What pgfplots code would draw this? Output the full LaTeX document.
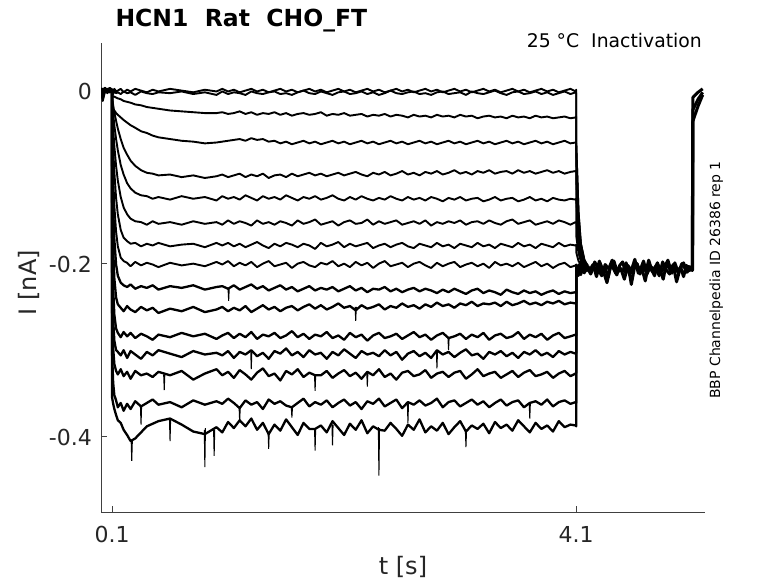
\documentclass[border=0pt]{standalone}
\usepackage{fontspec}
\setmainfont{DejaVu Sans}
\usepackage{pgfplots}
\pgfplotsset{compat=1.18}
\usepackage{pgfplotstable}
\definecolor{axisgray}{rgb}{0.25,0.25,0.25}
\definecolor{labelgray}{rgb}{0.15,0.15,0.15}
\pgfplotstableread{
t y1 y2 y3 y4 y5 y6 y7 y8 y9 y10 y11 y12 y13 y14 y15 y16
0.005 0.002 -0.001 0.001 -0.002 0 0.003 -0.001 0.001 -0.003 0 0.002 -0.002 0.001 -0.001 0 0.002
0.02 -0.002 -0.010 0.001 0.002 -0.003 -0.001 0 -0.012 0.002 -0.001 -0.002 0.001 -0.003 0 0.001 -0.002
0.04 0.001 0.002 -0.002 0 0.003 -0.002 0.001 -0.001 0 0.002 -0.001 0.003 0 -0.002 0.001 0
0.06 -0.001 0 0.002 -0.001 -0.002 0.001 -0.003 0.002 0.001 -0.002 0 -0.001 0.002 0.001 -0.001 0.001
0.08 0.002 -0.002 0 0.001 0.001 -0.001 0.002 0 -0.002 0.001 0.003 0 -0.001 0.002 0 -0.002
0.1 0 0.001 -0.001 -0.001 0 0 -0.001 0.001 0 -0.001 0.001 -0.001 0 0 0.001 0
0.101 0.001 -0.002 -0.006 -0.020 -0.009 -0.014 -0.023 -0.034 -0.056 -0.087 -0.129 -0.170 -0.210 -0.257 -0.306 -0.355
0.11 -0.001 -0.004 -0.007 -0.022 -0.017 -0.027 -0.044 -0.067 -0.100 -0.137 -0.184 -0.229 -0.265 -0.298 -0.338 -0.362
0.12 0.002 -0.001 -0.007 -0.023 -0.025 -0.040 -0.064 -0.094 -0.133 -0.172 -0.217 -0.259 -0.289 -0.316 -0.352 -0.368
0.135 -0.001 -0.003 -0.008 -0.026 -0.035 -0.056 -0.087 -0.124 -0.163 -0.201 -0.239 -0.275 -0.300 -0.324 -0.358 -0.375
0.15 0 -0.002 -0.009 -0.028 -0.044 -0.069 -0.104 -0.143 -0.180 -0.214 -0.247 -0.280 -0.302 -0.328 -0.366 -0.381
0.175 0.002 -0.004 -0.010 -0.031 -0.056 -0.086 -0.123 -0.161 -0.193 -0.222 -0.251 -0.285 -0.306 -0.322 -0.361 -0.384
0.2 -0.002 -0.001 -0.012 -0.034 -0.066 -0.097 -0.135 -0.170 -0.197 -0.225 -0.255 -0.279 -0.300 -0.330 -0.370 -0.392
0.23 0.001 -0.003 -0.013 -0.037 -0.074 -0.107 -0.143 -0.174 -0.199 -0.227 -0.249 -0.284 -0.309 -0.325 -0.362 -0.398
0.26 -0.001 -0.002 -0.014 -0.040 -0.081 -0.113 -0.148 -0.177 -0.203 -0.224 -0.253 -0.280 -0.301 -0.333 -0.368 -0.405
0.3 0.002 -0.005 -0.016 -0.043 -0.087 -0.118 -0.151 -0.176 -0.198 -0.229 -0.256 -0.286 -0.305 -0.324 -0.359 -0.402
0.35 0 -0.001 -0.017 -0.047 -0.092 -0.121 -0.152 -0.180 -0.202 -0.226 -0.250 -0.281 -0.310 -0.329 -0.365 -0.395
0.4 -0.002 -0.003 -0.019 -0.049 -0.095 -0.122 -0.155 -0.177 -0.199 -0.228 -0.254 -0.284 -0.302 -0.327 -0.361 -0.388
0.45 0.001 -0.004 -0.020 -0.052 -0.096 -0.125 -0.151 -0.179 -0.201 -0.225 -0.251 -0.288 -0.306 -0.331 -0.357 -0.385
0.5 -0.001 -0.002 -0.021 -0.054 -0.098 -0.123 -0.154 -0.176 -0.204 -0.230 -0.257 -0.282 -0.300 -0.325 -0.363 -0.382
0.6 0.002 -0.003 -0.023 -0.056 -0.097 -0.126 -0.152 -0.180 -0.199 -0.226 -0.252 -0.285 -0.304 -0.329 -0.360 -0.379
0.7 0 -0.001 -0.024 -0.058 -0.100 -0.122 -0.155 -0.178 -0.202 -0.228 -0.255 -0.280 -0.308 -0.324 -0.366 -0.386
0.8 -0.002 -0.004 -0.025 -0.059 -0.098 -0.125 -0.151 -0.177 -0.200 -0.225 -0.250 -0.284 -0.301 -0.334 -0.358 -0.394
0.9 0.001 -0.002 -0.026 -0.061 -0.101 -0.123 -0.154 -0.181 -0.203 -0.230 -0.256 -0.281 -0.305 -0.327 -0.363 -0.397
1.0 -0.001 -0.005 -0.026 -0.060 -0.099 -0.127 -0.152 -0.176 -0.198 -0.227 -0.253 -0.287 -0.303 -0.322 -0.359 -0.389
1.05 0.002 -0.001 -0.025 -0.059 -0.097 -0.122 -0.155 -0.179 -0.201 -0.226 -0.250 -0.283 -0.306 -0.329 -0.362 -0.395
1.10 -0.001 -0.004 -0.027 -0.058 -0.100 -0.125 -0.150 -0.176 -0.197 -0.229 -0.255 -0.280 -0.301 -0.325 -0.356 -0.383
1.15 0.001 -0.002 -0.026 -0.057 -0.098 -0.123 -0.154 -0.180 -0.203 -0.225 -0.251 -0.286 -0.309 -0.332 -0.361 -0.390
1.20 -0.002 -0.003 -0.024 -0.056 -0.096 -0.126 -0.151 -0.177 -0.199 -0.230 -0.254 -0.281 -0.302 -0.323 -0.367 -0.381
1.25 0 -0.005 -0.027 -0.058 -0.100 -0.121 -0.153 -0.181 -0.202 -0.227 -0.249 -0.285 -0.305 -0.328 -0.358 -0.388
1.30 0.002 -0.001 -0.025 -0.055 -0.097 -0.124 -0.156 -0.178 -0.198 -0.224 -0.256 -0.279 -0.300 -0.334 -0.363 -0.379
1.35 -0.001 -0.003 -0.028 -0.057 -0.099 -0.127 -0.150 -0.175 -0.204 -0.229 -0.252 -0.287 -0.307 -0.326 -0.360 -0.392
1.40 0.001 -0.004 -0.026 -0.056 -0.096 -0.122 -0.154 -0.179 -0.200 -0.226 -0.248 -0.282 -0.303 -0.321 -0.368 -0.384
1.45 -0.002 -0.002 -0.027 -0.059 -0.101 -0.125 -0.152 -0.182 -0.197 -0.231 -0.253 -0.284 -0.310 -0.330 -0.357 -0.397
1.50 0 -0.001 -0.025 -0.058 -0.098 -0.123 -0.155 -0.177 -0.203 -0.228 -0.250 -0.280 -0.301 -0.327 -0.362 -0.386
1.55 0.002 -0.004 -0.028 -0.061 -0.097 -0.126 -0.151 -0.180 -0.201 -0.225 -0.255 -0.286 -0.304 -0.335 -0.359 -0.393
1.60 -0.001 -0.003 -0.026 -0.059 -0.100 -0.121 -0.153 -0.176 -0.199 -0.230 -0.251 -0.283 -0.298 -0.324 -0.364 -0.380
1.65 0.001 -0.005 -0.029 -0.062 -0.096 -0.124 -0.156 -0.178 -0.205 -0.227 -0.249 -0.278 -0.306 -0.328 -0.366 -0.389
1.70 -0.002 -0.002 -0.027 -0.060 -0.099 -0.127 -0.150 -0.181 -0.200 -0.232 -0.254 -0.285 -0.302 -0.322 -0.361 -0.398
1.75 0 0 -0.026 -0.058 -0.097 -0.123 -0.154 -0.177 -0.198 -0.229 -0.250 -0.281 -0.308 -0.331 -0.356 -0.384
1.80 0.002 -0.003 -0.028 -0.061 -0.095 -0.125 -0.152 -0.179 -0.202 -0.226 -0.247 -0.287 -0.300 -0.326 -0.365 -0.391
1.85 -0.001 -0.004 -0.027 -0.059 -0.098 -0.122 -0.149 -0.183 -0.204 -0.231 -0.252 -0.282 -0.305 -0.329 -0.360 -0.391
1.90 0.001 -0.001 -0.025 -0.062 -0.096 -0.126 -0.155 -0.176 -0.199 -0.228 -0.248 -0.284 -0.303 -0.329 -0.363 -0.387
1.95 -0.002 -0.003 -0.029 -0.060 -0.099 -0.124 -0.153 -0.180 -0.201 -0.230 -0.253 -0.279 -0.310 -0.324 -0.358 -0.395
2.00 0 -0.005 -0.027 -0.058 -0.097 -0.121 -0.151 -0.178 -0.197 -0.227 -0.250 -0.286 -0.302 -0.332 -0.366 -0.382
2.05 0.002 -0.002 -0.028 -0.061 -0.095 -0.125 -0.156 -0.175 -0.203 -0.232 -0.246 -0.283 -0.306 -0.327 -0.361 -0.390
2.10 -0.001 -0.001 -0.026 -0.059 -0.098 -0.127 -0.152 -0.181 -0.200 -0.229 -0.251 -0.288 -0.299 -0.323 -0.357 -0.398
2.15 0.001 -0.004 -0.029 -0.062 -0.096 -0.123 -0.150 -0.177 -0.204 -0.226 -0.249 -0.280 -0.304 -0.330 -0.364 -0.385
2.20 -0.002 -0.003 -0.028 -0.060 -0.094 -0.126 -0.154 -0.180 -0.198 -0.231 -0.254 -0.285 -0.309 -0.326 -0.360 -0.392
2.25 0 -0.001 -0.027 -0.058 -0.097 -0.122 -0.153 -0.178 -0.202 -0.228 -0.248 -0.282 -0.301 -0.333 -0.368 -0.381
2.30 0.002 -0.004 -0.030 -0.061 -0.099 -0.125 -0.149 -0.176 -0.199 -0.233 -0.252 -0.289 -0.305 -0.325 -0.359 -0.396
2.35 -0.001 -0.002 -0.028 -0.059 -0.095 -0.127 -0.155 -0.182 -0.205 -0.229 -0.250 -0.283 -0.303 -0.329 -0.362 -0.388
2.40 0.001 -0.005 -0.029 -0.062 -0.097 -0.124 -0.151 -0.179 -0.200 -0.230 -0.247 -0.280 -0.307 -0.322 -0.356 -0.392
2.45 -0.002 -0.003 -0.027 -0.060 -0.094 -0.126 -0.154 -0.177 -0.197 -0.227 -0.253 -0.286 -0.300 -0.331 -0.365 -0.393
2.50 0 0 -0.030 -0.058 -0.098 -0.122 -0.152 -0.181 -0.203 -0.232 -0.249 -0.284 -0.306 -0.327 -0.361 -0.384
2.55 0.002 -0.003 -0.028 -0.061 -0.096 -0.125 -0.150 -0.178 -0.201 -0.229 -0.251 -0.281 -0.302 -0.334 -0.357 -0.391
2.60 -0.001 -0.004 -0.029 -0.059 -0.093 -0.127 -0.155 -0.176 -0.199 -0.233 -0.246 -0.287 -0.311 -0.326 -0.367 -0.399
2.65 0.001 -0.002 -0.031 -0.062 -0.097 -0.123 -0.153 -0.180 -0.204 -0.230 -0.250 -0.283 -0.304 -0.324 -0.360 -0.386
2.70 -0.002 -0.001 -0.028 -0.060 -0.095 -0.126 -0.151 -0.182 -0.200 -0.228 -0.248 -0.279 -0.301 -0.330 -0.363 -0.392
2.75 0 -0.004 -0.030 -0.058 -0.098 -0.124 -0.154 -0.177 -0.198 -0.232 -0.252 -0.285 -0.307 -0.328 -0.358 -0.380
2.80 0.002 -0.003 -0.029 -0.061 -0.094 -0.127 -0.150 -0.179 -0.202 -0.229 -0.247 -0.282 -0.303 -0.323 -0.364 -0.395
2.85 -0.001 -0.005 -0.031 -0.059 -0.096 -0.123 -0.156 -0.181 -0.205 -0.231 -0.250 -0.288 -0.309 -0.332 -0.361 -0.388
2.90 0.001 -0.002 -0.028 -0.062 -0.093 -0.125 -0.152 -0.176 -0.199 -0.234 -0.245 -0.283 -0.300 -0.327 -0.356 -0.393
2.95 -0.002 -0.001 -0.030 -0.060 -0.097 -0.128 -0.154 -0.180 -0.203 -0.230 -0.249 -0.280 -0.305 -0.325 -0.366 -0.384
3.00 0 -0.004 -0.029 -0.058 -0.095 -0.124 -0.151 -0.178 -0.200 -0.233 -0.247 -0.286 -0.302 -0.331 -0.360 -0.397
3.05 0.002 -0.003 -0.031 -0.061 -0.092 -0.126 -0.153 -0.182 -0.198 -0.229 -0.251 -0.284 -0.308 -0.326 -0.358 -0.389
3.10 -0.001 -0.002 -0.028 -0.059 -0.096 -0.123 -0.150 -0.177 -0.204 -0.232 -0.246 -0.281 -0.303 -0.324 -0.365 -0.382
3.15 0.001 -0.005 -0.030 -0.062 -0.094 -0.127 -0.155 -0.179 -0.201 -0.235 -0.248 -0.287 -0.299 -0.333 -0.361 -0.394
3.20 -0.002 -0.001 -0.029 -0.060 -0.097 -0.125 -0.152 -0.181 -0.199 -0.231 -0.244 -0.282 -0.306 -0.328 -0.357 -0.387
3.25 0 -0.003 -0.032 -0.058 -0.093 -0.124 -0.151 -0.176 -0.203 -0.229 -0.249 -0.285 -0.304 -0.322 -0.363 -0.391
3.30 0.002 -0.004 -0.030 -0.061 -0.095 -0.128 -0.154 -0.180 -0.200 -0.234 -0.246 -0.280 -0.310 -0.330 -0.359 -0.385
3.35 -0.001 -0.002 -0.029 -0.059 -0.092 -0.126 -0.150 -0.178 -0.205 -0.231 -0.247 -0.288 -0.302 -0.327 -0.366 -0.396
3.40 0.001 0 -0.031 -0.062 -0.096 -0.123 -0.153 -0.182 -0.198 -0.233 -0.245 -0.283 -0.305 -0.325 -0.361 -0.383
3.45 -0.002 -0.003 -0.030 -0.060 -0.094 -0.127 -0.155 -0.177 -0.202 -0.236 -0.249 -0.281 -0.301 -0.332 -0.357 -0.390
3.50 0 -0.005 -0.032 -0.058 -0.093 -0.125 -0.151 -0.179 -0.200 -0.230 -0.244 -0.286 -0.307 -0.328 -0.364 -0.386
3.55 0.002 -0.002 -0.029 -0.061 -0.096 -0.124 -0.149 -0.181 -0.203 -0.233 -0.248 -0.284 -0.303 -0.324 -0.360 -0.393
3.60 -0.001 -0.001 -0.031 -0.059 -0.092 -0.128 -0.154 -0.176 -0.199 -0.235 -0.246 -0.279 -0.309 -0.331 -0.358 -0.381
3.65 0.001 -0.004 -0.030 -0.062 -0.095 -0.126 -0.152 -0.180 -0.204 -0.231 -0.243 -0.287 -0.302 -0.326 -0.366 -0.388
3.70 -0.002 -0.003 -0.032 -0.060 -0.093 -0.123 -0.150 -0.178 -0.201 -0.234 -0.247 -0.282 -0.305 -0.323 -0.361 -0.395
3.75 0 -0.001 -0.029 -0.058 -0.096 -0.127 -0.155 -0.182 -0.198 -0.232 -0.245 -0.285 -0.300 -0.330 -0.359 -0.384
3.80 0.002 -0.004 -0.031 -0.061 -0.094 -0.125 -0.153 -0.177 -0.203 -0.236 -0.248 -0.281 -0.306 -0.328 -0.363 -0.391
3.85 -0.001 -0.002 -0.030 -0.059 -0.092 -0.128 -0.151 -0.179 -0.200 -0.233 -0.244 -0.288 -0.303 -0.325 -0.357 -0.387
3.90 0.001 -0.005 -0.032 -0.062 -0.095 -0.124 -0.154 -0.181 -0.205 -0.231 -0.246 -0.283 -0.308 -0.332 -0.365 -0.394
3.95 -0.002 -0.003 -0.031 -0.060 -0.093 -0.126 -0.150 -0.176 -0.201 -0.235 -0.243 -0.280 -0.301 -0.327 -0.360 -0.382
4.00 0 -0.001 -0.030 -0.058 -0.096 -0.127 -0.152 -0.180 -0.199 -0.232 -0.247 -0.286 -0.305 -0.324 -0.358 -0.389
4.05 0.002 -0.004 -0.032 -0.061 -0.094 -0.125 -0.155 -0.178 -0.204 -0.234 -0.245 -0.284 -0.302 -0.330 -0.362 -0.386
4.095 -0.001 -0.002 -0.031 -0.060 -0.093 -0.126 -0.152 -0.179 -0.202 -0.233 -0.246 -0.282 -0.304 -0.327 -0.360 -0.387
4.1 0.001 -0.003 -0.030 -0.061 -0.094 -0.125 -0.153 -0.178 -0.201 -0.234 -0.245 -0.283 -0.303 -0.326 -0.361 -0.388
4.1005 -0.062 -0.063 -0.083 -0.104 -0.127 -0.150 -0.168 -0.187 -0.203 -0.207 -0.210 -0.204 -0.212 -0.208 -0.206 -0.211
4.12 -0.140 -0.141 -0.149 -0.159 -0.169 -0.180 -0.188 -0.197 -0.206 -0.203 -0.209 -0.212 -0.201 -0.207 -0.214 -0.204
4.14 -0.176 -0.177 -0.180 -0.184 -0.189 -0.194 -0.197 -0.201 -0.202 -0.210 -0.205 -0.199 -0.208 -0.213 -0.203 -0.209
4.17 -0.196 -0.195 -0.197 -0.199 -0.200 -0.202 -0.203 -0.206 -0.209 -0.204 -0.199 -0.207 -0.211 -0.202 -0.210 -0.205
4.2 -0.202 -0.204 -0.203 -0.205 -0.206 -0.204 -0.207 -0.203 -0.201 -0.208 -0.206 -0.203 -0.205 -0.209 -0.204 -0.207
}\traces
\begin{document}
\begin{tikzpicture}
\useasboundingbox (0,0) rectangle (778pt,583pt);
\begin{axis}[
  at={(101pt,71pt)}, anchor=south west,
  scale only axis, width=604pt, height=469pt,
  xmin=0.005, xmax=5.21, ymin=-0.487, ymax=0.055,
  axis x line*=bottom, axis y line*=left,
  axis line style={-, draw=axisgray, line width=0.6pt},
  tick align=inside, major tick length=6pt,
  tick style={draw=axisgray, line width=0.6pt},
  xtick={0.1,4.1}, xticklabels={0.1,4.1},
  ytick={-0.4,-0.2,0}, yticklabels={-0.4,-0.2,0},
  ticklabel style={font=\fontsize{22}{26}\selectfont, text=labelgray},
  xticklabel style={anchor=base, inner sep=0pt, yshift=-30.3pt},
  yticklabel style={anchor=base east, inner sep=0pt, xshift=-9pt, yshift=-8.7pt},
  xlabel={t [s]},
  xlabel style={font=\fontsize{24}{28}\selectfont, text=labelgray, at={(axis description cs:0.5,-0.1322)}, anchor=base, inner sep=0pt},
  ylabel={I [nA]},
  ylabel style={font=\fontsize{24}{28}\selectfont, text=labelgray, at={(axis description cs:-0.106,0.489)}, anchor=base, inner sep=0pt},
  tr/.style={black, no markers, solid, line width=1.9pt, line join=round},
  trd/.style={black, no markers, solid, line width=2.3pt, line join=round},
  trt/.style={black, no markers, solid, line width=3.0pt, line join=round},
  sp/.style={black, no markers, solid, line width=1.0pt, unbounded coords=jump},
]
\pgfplotsinvokeforeach{1,...,9}{
  \addplot[tr] table[x=t, y=y#1] {\traces};
}
\pgfplotsinvokeforeach{10,...,16}{
  \addplot[trd] table[x=t, y=y#1] {\traces};
}
\addplot[trt] coordinates {(4.20,-0.203) (4.23,-0.210) (4.26,-0.198) (4.29,-0.207) (4.32,-0.214) (4.35,-0.201) (4.38,-0.206) (4.41,-0.196) (4.44,-0.211) (4.47,-0.204) (4.50,-0.209) (4.53,-0.199) (4.56,-0.213) (4.59,-0.205) (4.62,-0.200) (4.65,-0.208) (4.68,-0.197) (4.71,-0.212) (4.74,-0.203) (4.77,-0.207) (4.80,-0.199) (4.83,-0.210) (4.86,-0.204) (4.89,-0.196) (4.92,-0.209) (4.95,-0.202) (4.98,-0.211) (5.01,-0.200) (5.04,-0.206) (5.07,-0.203) (5.10,-0.208) (5.105,-0.008) (5.15,-0.002) (5.19,0.002)};
\addplot[trt] coordinates {(4.215,-0.208) (4.245,-0.201) (4.275,-0.215) (4.305,-0.199) (4.335,-0.209) (4.365,-0.222) (4.395,-0.204) (4.425,-0.197) (4.455,-0.210) (4.485,-0.206) (4.515,-0.218) (4.545,-0.202) (4.575,-0.208) (4.605,-0.195) (4.635,-0.211) (4.665,-0.205) (4.695,-0.220) (4.725,-0.200) (4.755,-0.209) (4.785,-0.203) (4.815,-0.214) (4.845,-0.198) (4.875,-0.207) (4.905,-0.212) (4.935,-0.201) (4.965,-0.221) (4.995,-0.206) (5.025,-0.199) (5.055,-0.210) (5.085,-0.204) (5.104,-0.207) (5.106,-0.022) (5.15,-0.010) (5.19,-0.002)};
\addplot[trt] coordinates {(4.20,-0.206) (4.225,-0.212) (4.25,-0.203) (4.275,-0.209) (4.30,-0.197) (4.325,-0.211) (4.35,-0.205) (4.375,-0.216) (4.40,-0.200) (4.425,-0.207) (4.45,-0.213) (4.475,-0.202) (4.50,-0.198) (4.525,-0.210) (4.55,-0.204) (4.575,-0.224) (4.60,-0.206) (4.625,-0.200) (4.65,-0.212) (4.675,-0.203) (4.70,-0.209) (4.725,-0.196) (4.75,-0.207) (4.775,-0.214) (4.80,-0.202) (4.825,-0.208) (4.85,-0.218) (4.875,-0.201) (4.90,-0.205) (4.925,-0.211) (4.95,-0.199) (4.975,-0.209) (5.00,-0.204) (5.025,-0.215) (5.05,-0.202) (5.075,-0.208) (5.10,-0.205) (5.106,-0.035) (5.15,-0.018) (5.19,-0.005)};
\addplot[sp] coordinates {
(0.265,-0.405) (0.27,-0.428) (0.275,-0.405) (0.28,nan)
(0.595,-0.380) (0.6,-0.405) (0.605,-0.380) (0.61,nan)
(0.895,-0.392) (0.9,-0.435) (0.905,-0.390) (0.91,nan)
(0.975,-0.390) (0.98,-0.422) (0.985,-0.392) (0.99,nan)
(1.445,-0.395) (1.45,-0.414) (1.455,-0.394) (1.46,nan)
(1.845,-0.390) (1.85,-0.416) (1.855,-0.390) (1.86,nan)
(1.995,-0.385) (2.0,-0.410) (2.005,-0.386) (2.01,nan)
(2.395,-0.389) (2.4,-0.445) (2.405,-0.390) (2.41,nan)
(3.145,-0.393) (3.15,-0.412) (3.155,-0.392) (3.16,nan)
(0.345,-0.365) (0.35,-0.386) (0.355,-0.364) (0.36,nan)
(1.195,-0.366) (1.2,-0.383) (1.205,-0.365) (1.21,nan)
(1.645,-0.366) (1.65,-0.378) (1.655,-0.366) (1.66,nan)
(2.645,-0.360) (2.65,-0.384) (2.655,-0.360) (2.66,nan)
(3.695,-0.361) (3.7,-0.379) (3.705,-0.361) (3.71,nan)
(0.545,-0.328) (0.55,-0.346) (0.555,-0.328) (0.56,nan)
(1.845,-0.329) (1.85,-0.347) (1.855,-0.329) (1.86,nan)
(2.295,-0.325) (2.3,-0.342) (2.305,-0.326) (2.31,nan)
(1.295,-0.300) (1.3,-0.322) (1.305,-0.301) (1.31,nan)
(2.895,-0.301) (2.9,-0.321) (2.905,-0.300) (2.91,nan)
(2.995,-0.286) (3.0,-0.300) (3.005,-0.285) (3.01,nan)
(2.195,-0.250) (2.2,-0.266) (2.205,-0.250) (2.21,nan)
(1.1,-0.229) (1.105,-0.243) (1.11,-0.229)
};
\end{axis}
\node[anchor=base west, font=\fontsize{23.5}{28}\selectfont\bfseries] at (112pt,556pt) {HCN1\ \ Rat\ \ CHO\_FT};
\node[anchor=base east, font=\fontsize{18.8}{22}\selectfont, inner sep=0pt] at (702pt,535.7pt) {25 °C\ \ Inactivation};
\node[rotate=90, anchor=base, font=\fontsize{14}{17}\selectfont, inner sep=0pt] at (720pt,303pt) {BBP Channelpedia ID 26386 rep 1};
\end{tikzpicture}
\end{document}
